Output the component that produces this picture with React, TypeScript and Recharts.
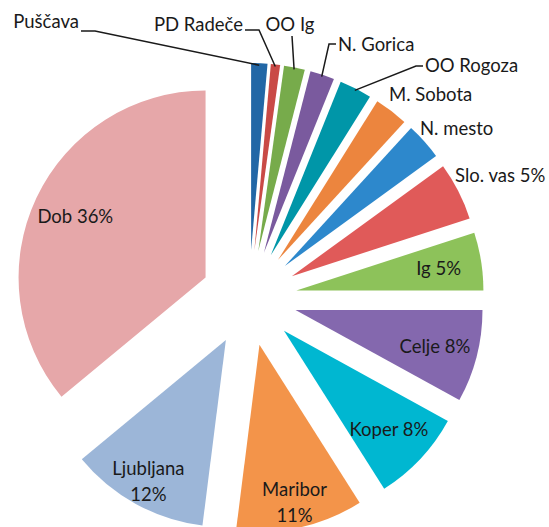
import React from "react";
import { PieChart, Pie, Cell, Sector } from "recharts";

const names = [
  "Puščava",
  "PD Radeče",
  "OO Ig",
  "N. Gorica",
  "OO Rogoza",
  "M. Sobota",
  "N. mesto",
  "Slo. vas",
  "Ig",
  "Celje",
  "Koper",
  "Maribor",
  "Ljubljana",
  "Dob",
];
const shares = [1.4, 0.8, 1.8, 2.1, 2.8, 2.9, 3.2, 5, 5, 8, 8, 11, 12, 36];
const showPercent = [false, false, false, false, false, false, false, true, true, true, true, true, true, true];
const twoLine = ["Maribor", "Ljubljana"];
const colors = [
  "#2267a6",
  "#c94a46",
  "#77ab4b",
  "#7a5a9e",
  "#0096a8",
  "#ec853e",
  "#2d88cc",
  "#e05a59",
  "#8dc25a",
  "#8468ae",
  "#00b7d1",
  "#f3944a",
  "#9cb6d8",
  "#e6a7a9",
];

const data = names.map((name, i) => ({ name, value: shares[i], pct: showPercent[i] }));

// outside label placement for the thin slices (text anchor point + leader start)
type OutLabel = { x: number; y: number; anchor: "start" | "end" | "middle"; leader?: number[][] };
const outsideLabels: Record<string, OutLabel> = {
  "Puščava": { x: 79, y: 21, anchor: "end", leader: [[81, 31], [95, 31]] },
  "PD Radeče": { x: 243, y: 24, anchor: "end", leader: [[245, 30], [259, 30]] },
  "OO Ig": { x: 290, y: 24, anchor: "middle", leader: [[292, 36]] },
  "N. Gorica": { x: 338, y: 44, anchor: "start", leader: [[336, 44], [329, 44]] },
  "OO Rogoza": { x: 425, y: 65, anchor: "start", leader: [[423, 66], [416, 66]] },
  "M. Sobota": { x: 389, y: 94, anchor: "start" },
  "N. mesto": { x: 420, y: 128, anchor: "start" },
  "Slo. vas": { x: 455, y: 175, anchor: "start" },
};

const RAD = Math.PI / 180;
const EXPLODE = 48;
const FONT = "Lato, 'Open Sans', sans-serif";
const FONT_SIZE = 18.5;
const TEXT = "#1a1a1a";

const offset = (mid: number, d: number) => [d * Math.cos(-mid * RAD), d * Math.sin(-mid * RAD)];

const ExplodedSector = (props: any) => {
  const { cx, cy, midAngle, innerRadius, outerRadius, startAngle, endAngle, fill } = props;
  const [dx, dy] = offset(midAngle, EXPLODE);
  return (
    <Sector
      cx={cx + dx}
      cy={cy + dy}
      innerRadius={innerRadius}
      outerRadius={outerRadius}
      startAngle={startAngle}
      endAngle={endAngle}
      fill={fill}
      stroke="none"
    />
  );
};

const renderLabel = (props: any) => {
  const { cx, cy, midAngle, outerRadius, payload, index } = props;
  const name = payload.name;
  const text = payload.pct ? `${name} ${Math.round(payload.value)}%` : name;
  const [dx, dy] = offset(midAngle, EXPLODE);
  const ox = cx + dx;
  const oy = cy + dy;
  const out = outsideLabels[name];
  if (out) {
    const [ax, ay] = offset(midAngle, outerRadius - 2);
    const pts = out.leader ? [...out.leader, [ox + ax, oy + ay]] : null;
    return (
      <g key={`l-${index}`}>
        {pts && (
          <polyline
            points={pts.map((p) => p.join(",")).join(" ")}
            fill="none"
            stroke={TEXT}
            strokeWidth={1.5}
          />
        )}
        <text
          x={out.x}
          y={out.y}
          textAnchor={out.anchor}
          dominantBaseline="central"
          fontFamily={FONT}
          fontSize={FONT_SIZE}
          fill={TEXT}
        >
          {text}
        </text>
      </g>
    );
  }
  const split = twoLine.includes(name);
  const [lx, ly] = offset(midAngle, outerRadius * (split ? 0.86 : 0.77));
  return (
    <text
      key={`l-${index}`}
      x={ox + lx}
      y={oy + ly}
      textAnchor="middle"
      dominantBaseline="central"
      fontFamily={FONT}
      fontSize={FONT_SIZE}
      fill={TEXT}
    >
      {split ? (
        <>
          <tspan x={ox + lx} dy={-13}>{name}</tspan>
          <tspan x={ox + lx} dy={26}>{`${Math.round(payload.value)}%`}</tspan>
        </>
      ) : (
        text
      )}
    </text>
  );
};

export default function App() {
  return (
    <div style={{ position: "fixed", left: 0, top: 0, background: "#fff" }}>
      <PieChart width={549} height={527}>
        <Pie
          data={data}
          dataKey="value"
          nameKey="name"
          cx={244}
          cy={293}
          outerRadius={187}
          startAngle={90}
          endAngle={-270}
          stroke="none"
          shape={ExplodedSector}
          label={renderLabel}
          labelLine={false}
          isAnimationActive={false}
        >
          {data.map((d, i) => (
            <Cell key={d.name} fill={colors[i]} />
          ))}
        </Pie>
      </PieChart>
    </div>
  );
}
